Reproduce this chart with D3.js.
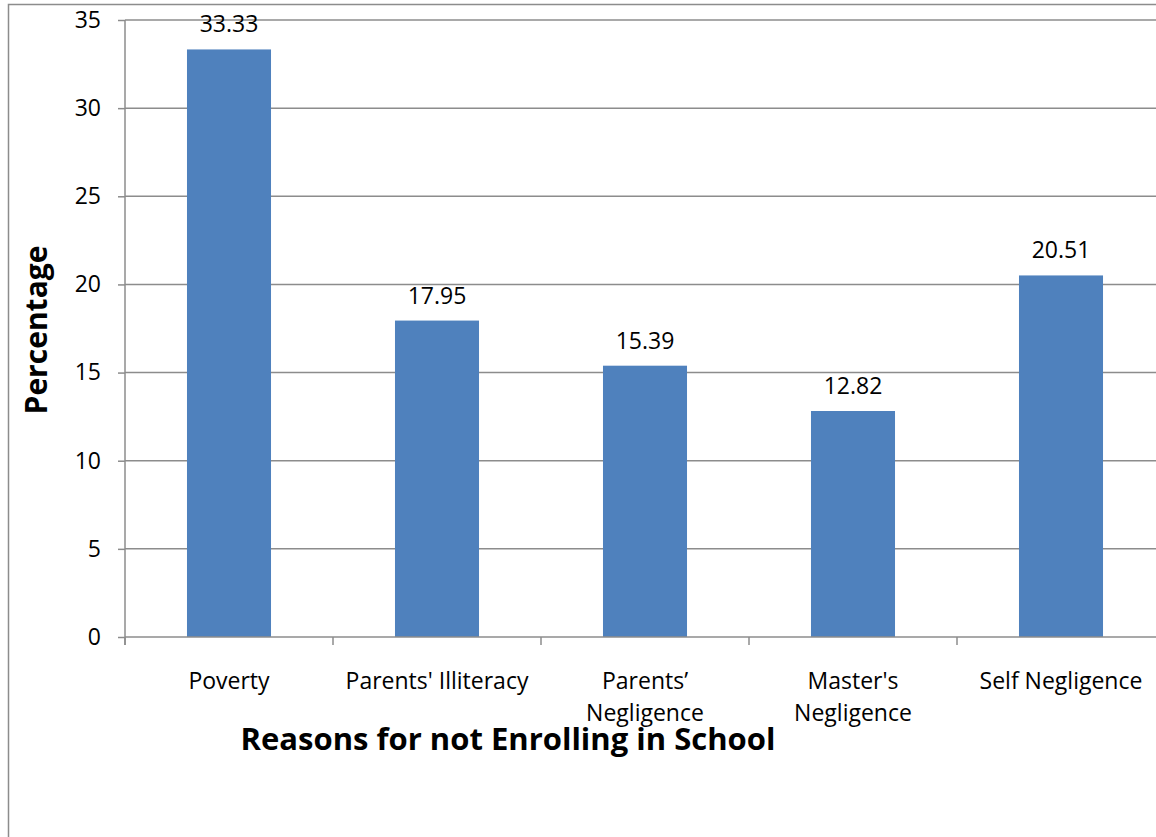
<!DOCTYPE html>
<html>
<head>
<meta charset="utf-8">
<script src="https://cdn.jsdelivr.net/npm/d3@7"></script>
<style>
  html, body { margin: 0; padding: 0; background: #fff; }
  svg { display: block; }
  text { font-family: "Open Sans", "Noto Sans", sans-serif; fill: #000; }
</style>
</head>
<body>
<svg id="chart" width="1156" height="837"></svg>
<script>
// Reasons for not enrolling in school (percentage of respondents)
const categories = ["Poverty", "Parents' Illiteracy", "Parents’ Negligence", "Master's Negligence", "Self Negligence"];
const categoryLines = [["Poverty"], ["Parents' Illiteracy"], ["Parents’", "Negligence"], ["Master's", "Negligence"], ["Self Negligence"]];
const values = [33.33, 17.95, 15.39, 12.82, 20.51];
const yTicks = [0, 5, 10, 15, 20, 25, 30, 35];

const svg = d3.select("#chart");
const plotLeft = 125, plotRight = 1165, plotTop = 20, plotBottom = 637;
const gridColor = "#8c8c8c";
const labelSize = "23px";

// outer chart frame
svg.append("rect")
  .attr("x", 8.5).attr("y", 4.5)
  .attr("width", 1200).attr("height", 900)
  .attr("fill", "none").attr("stroke", gridColor).attr("stroke-width", 1.5);

const x = d3.scaleBand().domain(categories).range([plotLeft, plotRight])
  .paddingInner(0.596).paddingOuter(0.298);
const y = d3.scaleLinear().domain([0, 35]).range([plotBottom, plotTop]);
const step = x.step();

// y ticks
const yAxis = d3.axisLeft(y).tickValues(yTicks).tickSize(7).tickPadding(17);
const gy = svg.append("g").attr("transform", `translate(${plotLeft},0)`).call(yAxis);
gy.select(".domain").remove();
gy.selectAll(".tick line").attr("stroke", gridColor).attr("stroke-width", 1.5);
gy.selectAll(".tick text").style("font-size", labelSize).attr("fill", "#000");

// horizontal gridlines
svg.append("g").selectAll("line").data(yTicks.filter(d => d > 0)).join("line")
  .attr("x1", plotLeft).attr("x2", 1156)
  .attr("y1", d => y(d)).attr("y2", d => y(d))
  .attr("stroke", gridColor).attr("stroke-width", 1.5);

// y axis line
svg.append("line").attr("x1", plotLeft).attr("x2", plotLeft)
  .attr("y1", plotTop).attr("y2", plotBottom + 8)
  .attr("stroke", gridColor).attr("stroke-width", 1.5);

// bars
svg.append("g").selectAll("rect").data(values).join("rect")
  .attr("x", (d, i) => x(categories[i]))
  .attr("width", x.bandwidth())
  .attr("y", d => y(d))
  .attr("height", d => y(0) - y(d))
  .attr("fill", "#4f81bd");

// x axis baseline and band-boundary ticks
svg.append("line").attr("x1", plotLeft).attr("x2", 1156)
  .attr("y1", plotBottom).attr("y2", plotBottom)
  .attr("stroke", gridColor).attr("stroke-width", 1.5);
const boundaries = d3.range(categories.length + 1).map(i => plotLeft + i * step);
svg.append("g").selectAll("line").data(boundaries).join("line")
  .attr("x1", d => d).attr("x2", d => d)
  .attr("y1", plotBottom).attr("y2", plotBottom + 8)
  .attr("stroke", gridColor).attr("stroke-width", 1.5);

// value labels
svg.append("g").selectAll("text").data(values).join("text")
  .attr("x", (d, i) => x(categories[i]) + x.bandwidth() / 2)
  .attr("y", d => y(d) - 17)
  .attr("text-anchor", "middle")
  .style("font-size", labelSize)
  .text(d => d.toFixed(2));

// category labels
const cl = svg.append("g").selectAll("text").data(categoryLines).join("text")
  .attr("x", (d, i) => x(categories[i]) + x.bandwidth() / 2)
  .attr("y", 689)
  .attr("text-anchor", "middle")
  .style("font-size", labelSize);
cl.selectAll("tspan").data(d => d).join("tspan")
  .attr("x", function () { return this.parentNode.getAttribute("x"); })
  .attr("dy", (d, i) => i === 0 ? 0 : 32)
  .text(d => d);

// axis titles
svg.append("text")
  .attr("x", 508).attr("y", 750)
  .attr("text-anchor", "middle")
  .style("font-size", "31px").style("font-weight", "bold")
  .text("Reasons for not Enrolling in School");

svg.append("text")
  .attr("transform", "translate(47,330) rotate(-90)")
  .attr("text-anchor", "middle")
  .style("font-size", "30px").style("font-weight", "bold")
  .text("Percentage");
</script>
</body>
</html>
